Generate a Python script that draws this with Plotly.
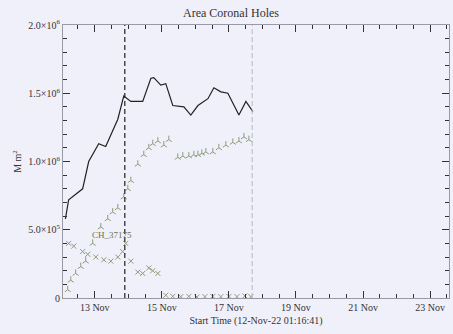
import plotly.graph_objects as go

# Total coronal hole area (black line)
total_time = ["2022-11-12 03:00", "2022-11-12 05:20", "2022-11-12 15:20", "2022-11-12 19:40",
              "2022-11-13 02:50", "2022-11-13 07:50", "2022-11-13 16:30", "2022-11-13 20:45",
              "2022-11-14 01:50", "2022-11-14 10:20", "2022-11-14 16:10", "2022-11-14 18:15",
              "2022-11-14 23:15", "2022-11-15 02:50", "2022-11-15 07:50", "2022-11-15 15:45",
              "2022-11-15 20:45", "2022-11-16 01:50", "2022-11-16 09:00", "2022-11-16 13:15",
              "2022-11-16 18:15", "2022-11-16 23:15", "2022-11-17 07:10", "2022-11-17 12:10",
              "2022-11-17 17:10"]
total_area = [0.58e6, 0.72e6, 0.80e6, 1.00e6, 1.13e6, 1.11e6, 1.31e6, 1.48e6,
              1.44e6, 1.44e6, 1.61e6, 1.615e6, 1.56e6, 1.57e6, 1.41e6, 1.40e6,
              1.34e6, 1.41e6, 1.46e6, 1.54e6, 1.51e6, 1.50e6, 1.34e6, 1.44e6, 1.365e6]

# Coronal hole A (rising)
a_time = ["2022-11-12 04:40", "2022-11-12 06:50", "2022-11-12 10:20", "2022-11-12 14:00",
          "2022-11-12 17:30", "2022-11-12 22:30", "2022-11-13 04:20", "2022-11-13 09:20",
          "2022-11-13 12:50", "2022-11-13 16:30", "2022-11-13 20:45", "2022-11-13 23:40",
          "2022-11-14 01:50", "2022-11-14 06:50", "2022-11-14 11:05", "2022-11-14 14:40",
          "2022-11-14 17:30", "2022-11-14 21:10", "2022-11-15 01:25", "2022-11-15 05:00",
          "2022-11-15 11:25", "2022-11-15 15:00", "2022-11-15 19:20", "2022-11-15 22:55",
          "2022-11-16 01:50", "2022-11-16 04:40", "2022-11-16 07:30", "2022-11-16 12:30",
          "2022-11-16 16:50", "2022-11-16 21:50", "2022-11-17 02:50", "2022-11-17 07:10",
          "2022-11-17 10:45", "2022-11-17 14:20"]
a_area = [0.06e6, 0.13e6, 0.18e6, 0.23e6, 0.27e6, 0.40e6, 0.52e6, 0.58e6,
          0.63e6, 0.66e6, 0.74e6, 0.80e6, 0.86e6, 0.98e6, 1.05e6, 1.10e6,
          1.13e6, 1.15e6, 1.12e6, 1.16e6, 1.03e6, 1.04e6, 1.04e6, 1.05e6,
          1.05e6, 1.06e6, 1.07e6, 1.07e6, 1.10e6, 1.12e6, 1.14e6, 1.15e6,
          1.18e6, 1.16e6]

# Coronal hole CH_37175
b_time = ["2022-11-12 05:20", "2022-11-12 09:00", "2022-11-12 15:20", "2022-11-12 19:00",
          "2022-11-13 00:45", "2022-11-13 06:30", "2022-11-13 11:30", "2022-11-13 16:30",
          "2022-11-13 20:00", "2022-11-13 22:10", "2022-11-14 01:50", "2022-11-14 06:50",
          "2022-11-14 10:20", "2022-11-14 14:40", "2022-11-14 17:30", "2022-11-14 21:10",
          "2022-11-15 02:50", "2022-11-15 07:50", "2022-11-15 13:35", "2022-11-15 19:20",
          "2022-11-16 01:05", "2022-11-16 06:50", "2022-11-16 12:30", "2022-11-16 18:15",
          "2022-11-17 00:00", "2022-11-17 05:45", "2022-11-17 11:25", "2022-11-17 15:45"]
b_area = [0.40e6, 0.38e6, 0.34e6, 0.32e6, 0.30e6, 0.28e6, 0.27e6, 0.30e6,
          0.34e6, 0.40e6, 0.27e6, 0.19e6, 0.18e6, 0.22e6, 0.20e6, 0.18e6,
          0.02e6, 0.012e6, 0.01e6, 0.012e6, 0.008e6, 0.01e6, 0.012e6, 0.01e6,
          0.012e6, 0.01e6, 0.015e6, 0.01e6]

y_tickvals = [0, 5e5, 1e6, 1.5e6, 2e6]
y_ticktext = ["0", "5.0×10<sup>5</sup>", "1.0×10<sup>6</sup>", "1.5×10<sup>6</sup>", "2.0×10<sup>6</sup>"]
x_tickvals = ["2022-11-13", "2022-11-15", "2022-11-17", "2022-11-19", "2022-11-21", "2022-11-23"]
x_ticktext = ["13 Nov", "15 Nov", "17 Nov", "19 Nov", "21 Nov", "23 Nov"]
ch_label = "CH_37175"
ch_label_time = "2022-11-13 12:00"
ch_label_y = 0.46e6
event_line = "2022-11-13 21:30"
end_line = "2022-11-17 16:40"
x_range = ["2022-11-12 01:16:41", "2022-11-23 13:30"]

bg = "#eff0fa"
green = "#8e9c78"
font = "Liberation Serif"

fig = go.Figure()
fig.add_trace(go.Scatter(x=a_time, y=a_area, mode="markers",
                         marker=dict(symbol="y-up-open", size=5, color=green, line=dict(width=1, color=green)),
                         showlegend=False))
fig.add_trace(go.Scatter(x=b_time, y=b_area, mode="markers",
                         marker=dict(symbol="x-thin-open", size=5, color=green, line=dict(width=1, color=green)),
                         showlegend=False))
fig.add_trace(go.Scatter(x=total_time, y=total_area, mode="lines",
                         line=dict(color="#222222", width=1.2), showlegend=False))

fig.add_shape(type="line", xref="x", yref="paper", x0=event_line, x1=event_line, y0=0, y1=1,
              line=dict(color="#222222", width=1.2, dash="5px,3px"))
fig.add_shape(type="line", xref="x", yref="paper", x0=end_line, x1=end_line, y0=0, y1=1,
              line=dict(color="#b8b8c4", width=1, dash="5px,3px"))

fig.add_annotation(x=ch_label_time, y=ch_label_y, text=ch_label, showarrow=False,
                   font=dict(family=font, size=9, color="#6a7450"))

axis_common = dict(showgrid=False, zeroline=False, showline=True, linecolor="#9a9aa6", linewidth=1,
                   mirror="ticks", ticks="inside", tickcolor="#333333",
                   tickfont=dict(family=font, size=10, color="#333333"))

fig.update_layout(
    width=453, height=334,
    margin=dict(l=63, r=4, t=25, b=36),
    paper_bgcolor=bg, plot_bgcolor=bg,
    title=dict(text="Area Coronal Holes", x=0.51, xanchor="center", y=0.975, yanchor="top",
               font=dict(family=font, size=12, color="#333333")),
    xaxis=dict(axis_common, type="date", range=x_range, tickvals=x_tickvals, ticktext=x_ticktext,
               ticklen=7, minor=dict(dtick=12 * 3600 * 1000, ticks="inside", ticklen=4, tickcolor="#333333"),
               title=dict(text="Start Time (12-Nov-22 01:16:41)", standoff=4,
                          font=dict(family=font, size=10, color="#333333"))),
    yaxis=dict(axis_common, range=[0, 2.0e6], tickvals=y_tickvals, ticktext=y_ticktext,
               ticklen=7, minor=dict(dtick=1e5, ticks="inside", ticklen=4, tickcolor="#333333"),
               title=dict(text="M m<sup>2</sup>", standoff=4,
                          font=dict(family=font, size=10, color="#333333"))),
)

fig.write_html("out.html")
